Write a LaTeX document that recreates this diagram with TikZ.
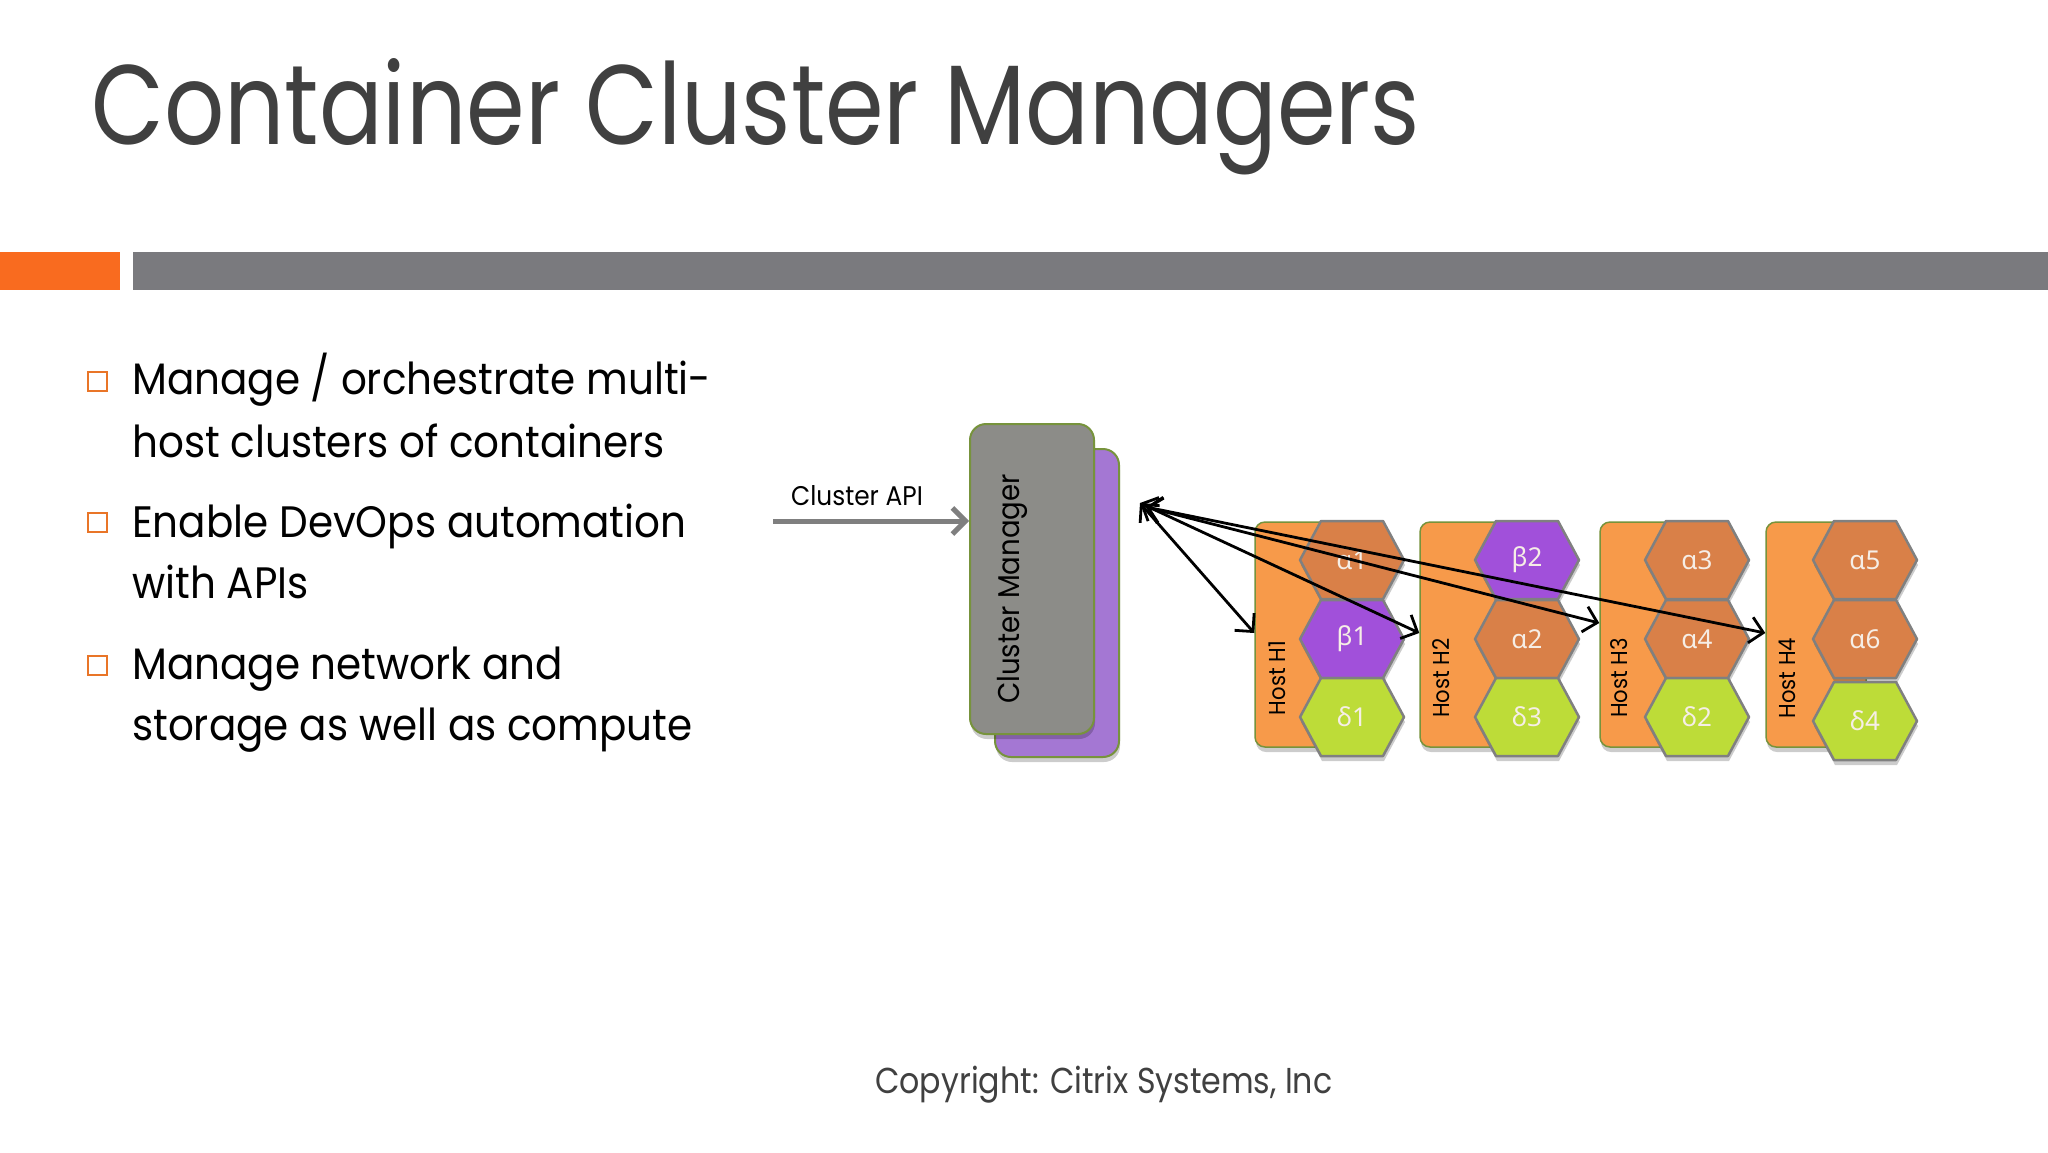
\documentclass[tikz,border=0pt]{standalone}
\usepackage{fontspec}
\setmainfont{Poppins}[FakeStretch=0.92]
\newfontfamily\titlefont{Poppins}[FakeStretch=0.835]
\newfontfamily\copyfont{Poppins}[FakeStretch=0.88]
\newfontfamily\greekfont{Noto Sans}
\usetikzlibrary{arrows.meta,shadows}
\definecolor{titlegray}{HTML}{404040}
\definecolor{barorange}{HTML}{F96B1F}
\definecolor{bargray}{HTML}{7A7A7E}
\definecolor{bulletorange}{HTML}{E97528}
\definecolor{cmgray}{HTML}{8C8C88}
\definecolor{cmpurple}{HTML}{A477D3}
\definecolor{olive}{HTML}{77933C}
\definecolor{hostorange}{HTML}{F79A4A}
\definecolor{alphaor}{HTML}{D98048}
\definecolor{betapu}{HTML}{A150DA}
\definecolor{deltagr}{HTML}{BDDC38}
\definecolor{hexborder}{HTML}{808080}
\definecolor{hextxt}{HTML}{F6EEE6}
\definecolor{apigray}{HTML}{7F7F7F}
\tikzset{
  softshadow/.style={drop shadow={shadow xshift=1pt, shadow yshift=-5pt, opacity=0.2, fill=black}},
  bodytext/.style={anchor=base west, inner sep=0pt, font=\fontsize{44}{53}\selectfont, text=black},
  bulletbox/.style={draw=bulletorange, line width=2pt, minimum width=19pt, minimum height=19pt, inner sep=0pt},
  cmbox/.style={draw=olive, line width=2pt, rounded corners=16pt, minimum width=124pt, inner sep=0pt, softshadow},
  hostbox/.style={draw=olive, line width=1.5pt, fill=hostorange, rounded corners=10pt, minimum width=100pt, minimum height=225pt, inner sep=0pt, softshadow},
  hexline/.style={draw=hexborder, line width=2.5pt, line join=round, softshadow},
  hexlabel/.style={inner sep=0pt, text=hextxt, font=\greekfont\fontsize{26}{31}\selectfont},
  hostlabel/.style={rotate=90, inner sep=0pt, font=\fontsize{23}{28}\selectfont},
  conn/.style={draw=black, line width=2.8pt, {Straight Barb[length=13pt,width=26pt]}-{Straight Barb[length=13pt,width=26pt]}},
}
\newcommand\hexcell[5]{%
  \path[hexline, fill=#4] ({#2-52},#3) -- ({#2-31},{#3-39}) -- ({#2+31},{#3-39}) -- ({#2+52},#3) -- ({#2+31},{#3+39}) -- ({#2-31},{#3+39}) -- cycle;
  \node[hexlabel] (#1) at (#2,#3) {#5};
}
\begin{document}
\begin{tikzpicture}[x=1pt,y=-1pt]
\useasboundingbox (0,0) rectangle (2048,1152);
\fill[white] (0,0) rectangle (2048,1152);
% title
\node[anchor=base west, inner sep=0pt, text=titlegray, font=\titlefont\fontsize{113}{130}\selectfont] (title) at (91,144) {Container Cluster Managers};
% bars
\fill[barorange] (0,252) rectangle (120,290);
\fill[bargray] (133,252) rectangle (2048,290);
% bullets
\node[bulletbox] (b1) at (97,381) {};
\node[bulletbox] (b2) at (97,522) {};
\node[bulletbox] (b3) at (97,665) {};
\node[bodytext] (l1) at (132,394) {Manage / orchestrate multi-};
\node[bodytext] (l2) at (132,457) {host clusters of containers};
\node[bodytext] (l3) at (132,537) {Enable DevOps automation};
\node[bodytext] (l4) at (132,598) {with APIs};
\node[bodytext] (l5) at (132,679) {Manage network and};
\node[bodytext] (l6) at (132,740) {storage as well as compute};
% copyright
\node[anchor=base west, inner sep=0pt, text=titlegray, font=\copyfont\fontsize{36}{43}\selectfont] (copy) at (875,1093) {Copyright: Citrix Systems, Inc};
% cluster manager
\node[cmbox, fill=cmpurple, minimum height=308pt] (cmback) at (1057,603) {};
\node[cmbox, fill=cmgray, minimum height=310pt] (cm) at (1032,579) {};
\node[rotate=90, inner sep=0pt, text=black, font=\fontsize{30}{36}\selectfont] (cmlabel) at (1012,589) {Cluster Manager};
% cluster API
\coordinate (apistart) at (773,521);
\draw[apigray, line width=5pt, -{Straight Barb[length=13pt,width=26pt]}] (apistart) -- (cm.west |- apistart);
\node[inner sep=0pt, font=\fontsize{27}{32}\selectfont] (apilabel) at (857,496) {Cluster API};
% hosts
\node[hostbox] (h1) at (1305,634.5) {};
\node[hostlabel] (h1l) at (1277,678) {Host H1};
\hexcell{a1}{1352}{560}{alphaor}{α1}
\hexcell{bt1}{1352}{639}{betapu}{β1}
\hexcell{d1}{1352}{717}{deltagr}{δ1}
\node[hostbox] (h2) at (1470,634.5) {};
\node[hostlabel] (h2l) at (1441,678) {Host H2};
\hexcell{bt2}{1527}{560}{betapu}{β2}
\hexcell{a2}{1527}{639}{alphaor}{α2}
\hexcell{d3}{1527}{717}{deltagr}{δ3}
\node[hostbox] (h3) at (1650,634.5) {};
\node[hostlabel] (h3l) at (1619,678) {Host H3};
\hexcell{a3}{1697}{560}{alphaor}{α3}
\hexcell{a4}{1697}{639}{alphaor}{α4}
\hexcell{d2}{1697}{717}{deltagr}{δ2}
\node[hostbox] (h4) at (1816,634.5) {};
\node[hostlabel] (h4l) at (1787,678) {Host H4};
\hexcell{a5}{1865}{560}{alphaor}{α5}
\hexcell{a6}{1865}{639}{alphaor}{α6}
\hexcell{d4}{1865}{721}{deltagr}{δ4}
% connectors
\coordinate (port1) at (1140,503);
\coordinate (port2) at (1146,507);
\coordinate (h1in) at (h1.west |- 0,633);
\coordinate (h2in) at (h2.west |- 0,633);
\coordinate (h3in) at (h3.west |- 0,623);
\coordinate (h4in) at (h4.west |- 0,633);
\draw[conn] (port1) -- (h1in);
\draw[conn] (port1) -- (h2in);
\draw[conn] (port2) -- (h3in);
\draw[conn] (port2) -- (h4in);
\end{tikzpicture}
\end{document}
